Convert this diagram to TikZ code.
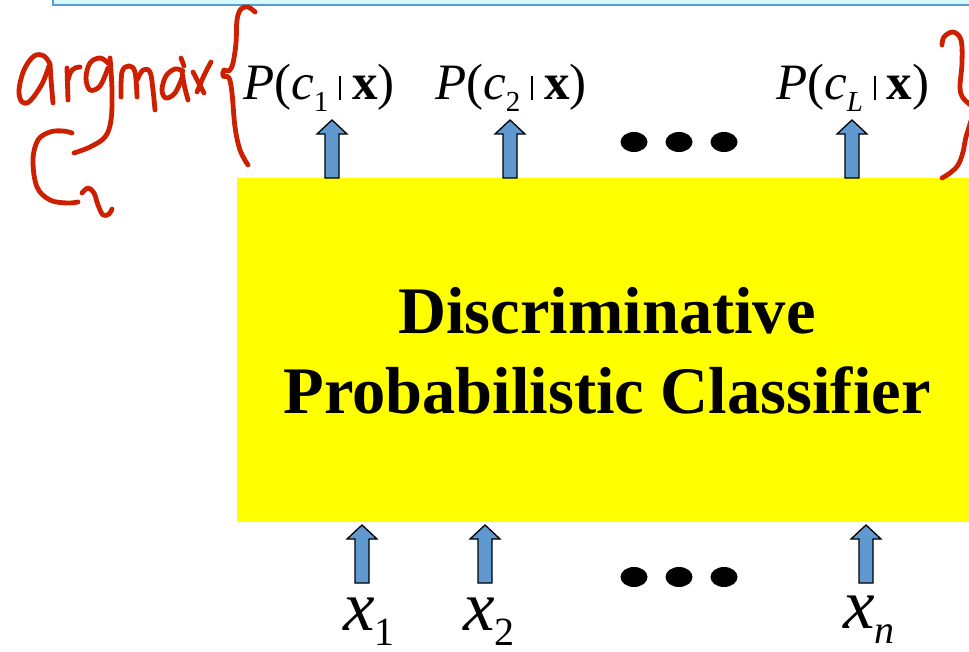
\documentclass[tikz,border=0pt]{standalone}
\usepackage{fontspec}
\setmainfont{Liberation Serif}
\definecolor{boxyellow}{RGB}{255,255,0}
\definecolor{arrowblue}{RGB}{95,153,207}
\definecolor{topfill}{RGB}{214,249,253}
\definecolor{topline}{RGB}{91,155,213}
\definecolor{handred}{RGB}{204,32,0}
\newcommand\plab[1]{\textit{P}(\textit{c}\raisebox{-12pt}{\fontsize{29}{29}\selectfont #1}\hspace{11pt}\rule{1.8pt}{24pt}\hspace{11pt}\textbf{x})}
\newcommand\xlab[1]{\textit{x}\raisebox{-15pt}{\fontsize{40}{40}\selectfont #1}}
\tikzset{
  arrowstyle/.style={fill=arrowblue, draw=black, line width=1.3pt, line join=miter},
  fatarrow/.pic={\path[arrowstyle] (0,0) -- (15,14) -- (7,14) -- (7,58) -- (-7,58) -- (-7,14) -- (-15,14) -- cycle;},
  dotmark/.style={ellipse, fill=black, minimum width=27pt, minimum height=20pt, inner sep=0pt},
  problabel/.style={anchor=base west, inner sep=0pt, font=\fontsize{51}{51}\selectfont},
  xlabel/.style={anchor=base west, inner sep=0pt, font=\fontsize{71}{71}\selectfont},
  boxtext/.style={anchor=base, inner sep=0pt, font=\bfseries\fontsize{66.5}{79}\selectfont},
  hand/.style={draw=handred, line width=4.8pt, line cap=round, line join=round},
}
\usetikzlibrary{shapes.geometric}
\begin{document}
\begin{tikzpicture}[x=1pt, y=-1pt]
\useasboundingbox (0,0) rectangle (969,652);
\clip (0,0) rectangle (969,652);
\fill[white] (0,0) rectangle (969,652);
% top panel edge
\draw[fill=topfill, draw=topline, line width=2pt] (53,-30) rectangle (1000,5);
% classifier box
\node[fill=boxyellow, inner sep=0pt, anchor=north west, minimum width=760pt, minimum height=344pt] (box) at (237,178) {};
\node[boxtext] (t1) at (607,334) {Discriminative};
\node[boxtext] (t2) at (607,413) {Probabilistic Classifier};
% output labels
\node[problabel] (p1) at (243,100) {\plab{1}};
\node[problabel] (p2) at (435,100) {\plab{2}};
\node[problabel] (pL) at (776,100) {\plab{\textit{L}}};
% output arrows
\coordinate (a1) at (332,120);
\coordinate (a2) at (510,120);
\coordinate (aL) at (852,120);
\pic at (a1) {fatarrow};
\pic at (a2) {fatarrow};
\pic at (aL) {fatarrow};
% top dots
\node[dotmark] (d1) at (634,142) {};
\node[dotmark] (d2) at (679,142) {};
\node[dotmark] (d3) at (724,142) {};
% input arrows
\coordinate (b1) at (362,525);
\coordinate (b2) at (485,525);
\coordinate (bn) at (866,525);
\pic at (b1) {fatarrow};
\pic at (b2) {fatarrow};
\pic at (bn) {fatarrow};
% bottom dots
\node[dotmark] (e1) at (634,577) {};
\node[dotmark] (e2) at (679,577) {};
\node[dotmark] (e3) at (724,577) {};
% input labels
\node[xlabel] (x1) at (343,630) {\xlab{1}};
\node[xlabel] (x2) at (463,630) {\xlab{2}};
\node[xlabel] (xn) at (843,628) {\xlab{\textit{n}}};
% handwriting: argmax
\draw[hand] plot[smooth, tension=0.6] coordinates {(50,64) (44,56) (34,56) (24,70) (19,90) (22,102) (30,101) (42,84) (49,66)};
\draw[hand] (50,64) .. controls (51,80) .. (53,103);
\draw[hand] (67,68) -- (68,100);
\draw[hand] (68,80) .. controls (70,70) and (74,67) .. (80,67);
\draw[hand] plot[smooth, tension=0.6] coordinates {(108,63) (100,58) (90,63) (86,78) (90,90) (100,86) (108,68)};
\draw[hand] plot[smooth, tension=0.6] coordinates {(110,58) (112,90) (111,120) (105,137) (90,147) (74,153)};
\draw[hand] plot[smooth, tension=0.6] coordinates {(121,97) (122,72) (129,66) (135,72) (137,97)};
\draw[hand] plot[smooth, tension=0.6] coordinates {(137,80) (143,70) (150,72) (153,90) (155,110)};
\draw[hand] plot[smooth, tension=0.6] coordinates {(183,71) (175,69) (166,76) (162,90) (166,98) (175,93) (182,78)};
\draw[hand] (182,72) .. controls (184,85) .. (188,100);
\draw[hand] (181,58) -- (184,66);
\draw[hand] (193,72) .. controls (198,82) .. (204,93);
\draw[hand] (211,62) .. controls (204,75) .. (197,92);
% left brace
\draw[hand] plot[smooth, tension=0.6] coordinates {(255,12) (248,7) (241,9) (237,20) (236,43) (233,63) (229,71) (224,70) (223,76) (229,78) (232,93) (235,127) (240,150) (248,165)};
% c_i
\draw[hand] plot[smooth, tension=0.6] coordinates {(72,133) (63,131) (50,132) (38,140) (33,160) (37,187) (50,200) (67,203) (78,202)};
\draw[hand] plot[smooth, tension=0.6] coordinates {(82,193) (88,188) (94,193) (98,205) (103,215) (109,214) (112,209)};
% right brace
\draw[hand] plot[smooth, tension=0.6] coordinates {(942,45) (944,37) (953,32) (961,40) (962,63) (960,87) (963,98) (972,106)};
\draw[hand] plot[smooth, tension=0.6] coordinates {(972,118) (966,137) (963,152) (958,165) (950,173) (942,178)};
\end{tikzpicture}
\end{document}
